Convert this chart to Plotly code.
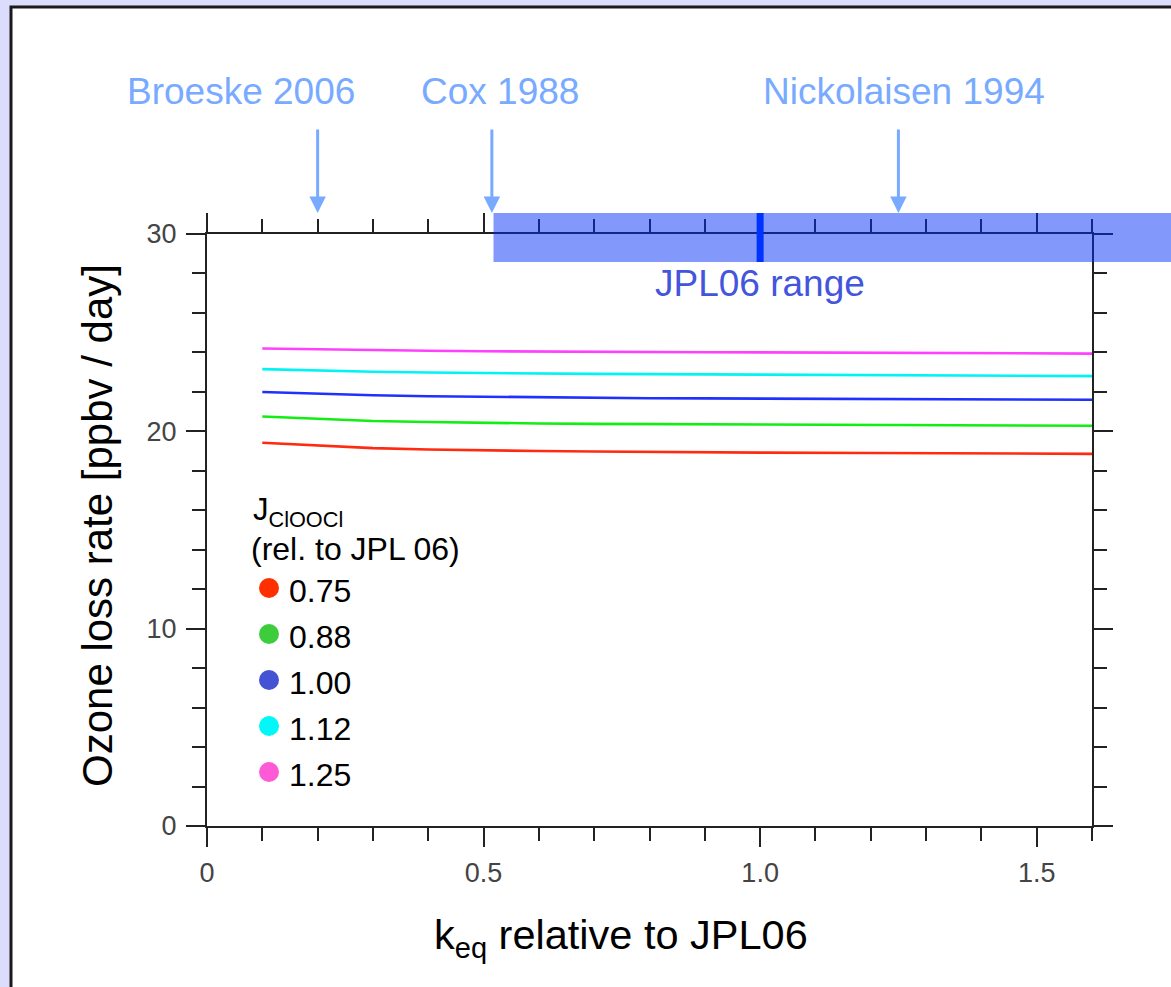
import plotly.graph_objects as go

# ---------------- data ----------------
k_eq = [0.1, 0.2, 0.3, 0.4, 0.5, 0.6, 0.7, 0.8, 0.9, 1.0, 1.2, 1.4, 1.6]
j_labels = ["0.75", "0.88", "1.00", "1.12", "1.25"]
loss_075 = [19.42, 19.28, 19.15, 19.08, 19.03, 19.00, 18.98, 18.95, 18.93, 18.92, 18.90, 18.88, 18.86]
loss_088 = [20.75, 20.62, 20.52, 20.47, 20.42, 20.40, 20.38, 20.37, 20.36, 20.35, 20.32, 20.30, 20.28]
loss_100 = [21.99, 21.90, 21.83, 21.78, 21.75, 21.72, 21.70, 21.68, 21.67, 21.66, 21.64, 21.62, 21.60]
loss_112 = [23.15, 23.08, 23.02, 22.98, 22.95, 22.93, 22.91, 22.90, 22.89, 22.88, 22.86, 22.84, 22.80]
loss_125 = [24.20, 24.15, 24.10, 24.08, 24.06, 24.04, 24.03, 24.02, 24.01, 24.00, 23.99, 23.98, 23.94]
series = [loss_075, loss_088, loss_100, loss_112, loss_125]
line_colors = ["#ff2a10", "#11ee11", "#2030ff", "#00f4f4", "#ff40ff"]
dot_colors = ["#ff3000", "#3ccc3c", "#4452d4", "#00f8f8", "#ff5ad6"]

studies = ["Broeske 2006", "Cox 1988", "Nickolaisen 1994"]
study_keq = [0.2, 0.515, 1.25]
jpl_low = 0.518
jpl_center = 1.0

x_range = [0, 1.6]
y_range = [0, 30]
x_major = [0, 0.5, 1.0, 1.5]
x_major_text = ["0", "0.5", "1.0", "1.5"]
y_major = [0, 10, 20, 30]

# ---------------- layout geometry ----------------
W, H = 1171, 987
L, R, T, B = 207, 79, 234, 161
PW, PH = W - L - R, H - T - B


def px(xp):
    return (xp - L) / PW


def py(yp):
    return (H - B - yp) / PH


def xd(v):  # data x -> paper x
    return (v - x_range[0]) / (x_range[1] - x_range[0])


FONT = "Liberation Sans, Arial, sans-serif"
ARROW = "#78aaff"

fig = go.Figure()
for lab, ys, col in zip(j_labels, series, line_colors):
    fig.add_trace(go.Scatter(x=k_eq, y=ys, mode="lines", name=lab,
                             line=dict(color=col, width=2.6), showlegend=False))

axis_common = dict(showline=True, linecolor="#222", linewidth=2, mirror="ticks",
                   ticks="outside", tickcolor="#222", tickwidth=2, ticklen=19,
                   showgrid=False, zeroline=False,
                   tickfont=dict(family=FONT, size=27, color="#444"))
fig.update_xaxes(range=x_range, tickvals=x_major, ticktext=x_major_text,
                 ticklabelstandoff=3,
                 minor=dict(dtick=0.1, tick0=0, ticks="outside", ticklen=13,
                            tickwidth=2, tickcolor="#222", showgrid=False),
                 **axis_common)
fig.update_yaxes(range=y_range, tickvals=y_major, ticklabelstandoff=4,
                 minor=dict(dtick=2, tick0=0, ticks="outside", ticklen=13,
                            tickwidth=2, tickcolor="#222", showgrid=False),
                 **axis_common)

shapes = []
# page frame
shapes.append(dict(type="rect", xref="paper", yref="paper", layer="below",
                   x0=px(11), x1=px(1200), y0=py(1010), y1=py(7),
                   fillcolor="white", line=dict(color="#1a1a1a", width=3)))
# JPL06 range band
shapes.append(dict(type="rect", xref="paper", yref="paper", layer="above",
                   x0=xd(jpl_low), x1=px(1200), y0=py(262), y1=py(213),
                   fillcolor="rgba(0,44,245,0.49)", line=dict(width=0)))
shapes.append(dict(type="line", xref="x", yref="paper", layer="above",
                   x0=jpl_center, x1=jpl_center, y0=py(262), y1=py(213),
                   line=dict(color="#0033ff", width=7)))
# legend dots
dot_y = [588, 634, 680, 726, 772]
for yy, col in zip(dot_y, dot_colors):
    shapes.append(dict(type="circle", xref="paper", yref="paper",
                       x0=px(259), x1=px(279), y0=py(yy + 10), y1=py(yy - 10),
                       fillcolor=col, line=dict(width=0)))

ann = []
label_x = [241, 500, 904]
for name, lx in zip(studies, label_x):
    ann.append(dict(text=name, xref="paper", yref="paper", x=px(lx), y=py(92),
                    showarrow=False, font=dict(family=FONT, size=37, color=ARROW),
                    xanchor="center", yanchor="middle"))
for kv in study_keq:
    ann.append(dict(text="", xref="x", yref="paper", x=kv, y=py(213),
                    showarrow=True, ax=0, ay=-85, arrowhead=2, arrowsize=1.1,
                    arrowwidth=3, arrowcolor=ARROW, standoff=0, startstandoff=0))
ann.append(dict(text="JPL06 range", xref="x", yref="paper", x=jpl_center, y=py(283),
                showarrow=False, font=dict(family=FONT, size=37, color="#4455dd"),
                xanchor="center", yanchor="middle"))
# legend text
ann.append(dict(text="J<sub>ClOOCl</sub>", xref="paper", yref="paper", x=px(251), y=py(512),
                showarrow=False, font=dict(family=FONT, size=31, color="black"),
                xanchor="left", yanchor="middle"))
ann.append(dict(text="(rel. to JPL 06)", xref="paper", yref="paper", x=px(249), y=py(549),
                showarrow=False, font=dict(family=FONT, size=32, color="black"),
                xanchor="left", yanchor="middle"))
for yy, lab in zip(dot_y, j_labels):
    ann.append(dict(text=lab, xref="paper", yref="paper", x=px(287), y=py(yy + 3),
                    showarrow=False, font=dict(family=FONT, size=32, color="black"),
                    xanchor="left", yanchor="middle"))
# axis titles
ann.append(dict(text="k<sub>eq</sub> relative to JPL06", xref="paper", yref="paper",
                x=px(621), y=py(937), showarrow=False,
                font=dict(family=FONT, size=41.5, color="black"),
                xanchor="center", yanchor="middle"))
ann.append(dict(text="Ozone loss rate [ppbv / day]", xref="paper", yref="paper",
                x=px(97), y=py(526), showarrow=False, textangle=-90,
                font=dict(family=FONT, size=42, color="black"),
                xanchor="center", yanchor="middle"))

fig.update_layout(width=W, height=H, margin=dict(l=L, r=R, t=T, b=B),
                  paper_bgcolor="#dcdcfc", plot_bgcolor="white",
                  shapes=shapes, annotations=ann, showlegend=False,
                  font=dict(family=FONT))

fig.write_html("out.html")
